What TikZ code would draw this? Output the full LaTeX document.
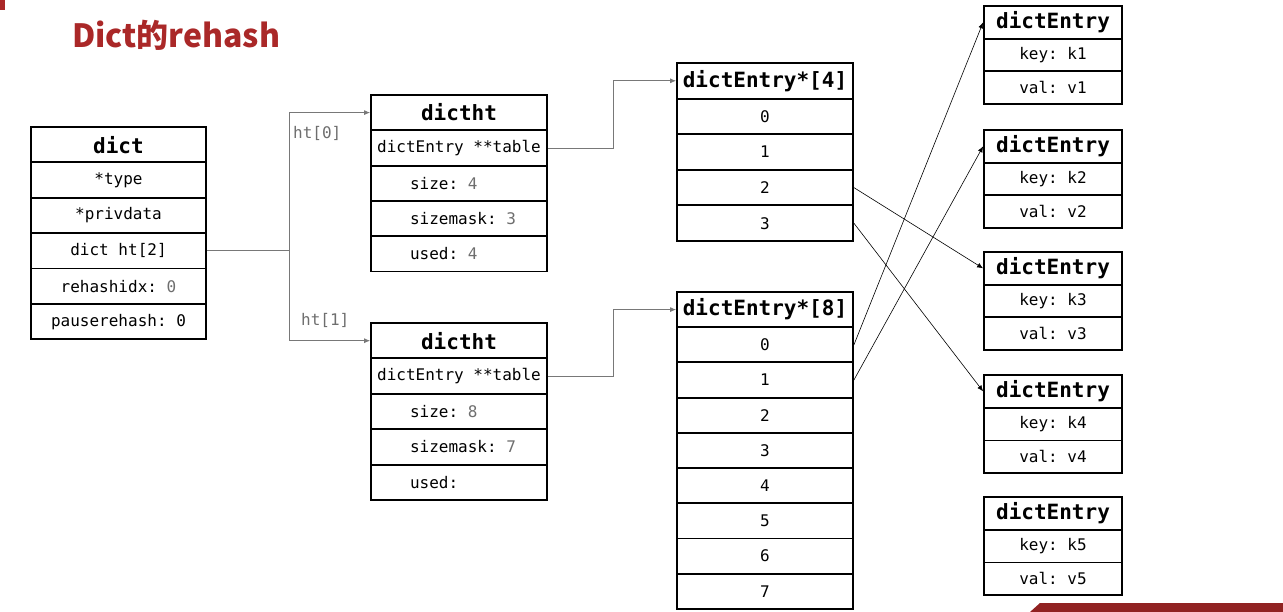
\documentclass[tikz,border=0pt]{standalone}
\usepackage{fontspec}
\setmonofont{DejaVu Sans Mono}
\newfontfamily\titlefont{Noto Sans CJK SC}
\usetikzlibrary{arrows.meta}
\definecolor{titlered}{RGB}{170,40,40}
\definecolor{numgray}{RGB}{110,110,110}
\definecolor{linegray}{RGB}{120,120,120}
\tikzset{
  cell/.style={draw, line width=1.8pt, inner sep=0pt, font=\ttfamily\fontsize{16}{17}\selectfont},
  head/.style={cell, font=\ttfamily\bfseries\fontsize{21}{22}\selectfont},
  wide/.style={minimum width=176pt, minimum height=35.4pt},
  narrow/.style={minimum width=138pt, minimum height=32.7pt},
  conn/.style={draw=linegray, line width=0.8pt},
  ptr/.style={draw=black, line width=0.6pt, -{Latex[length=6pt,width=5pt]}},
  lbl/.style={text=numgray, font=\ttfamily\fontsize{16}{17}\selectfont, inner sep=0pt}
}
\newcommand{\gv}[1]{\textcolor{numgray}{#1}}
\newcommand{\lc}[1]{\makebox[98pt][l]{#1}}
\begin{document}
\begin{tikzpicture}[x=1pt,y=-1pt]
\useasboundingbox (0,0) rectangle (1283,612);
% slide artifacts
\fill[titlered] (0,0) rectangle (5,10);
\fill[titlered!85!black] (1040,603) -- (1283,603) -- (1283,612) -- (1030,612) -- cycle;
% title
\node[anchor=base west, inner sep=0pt, text=titlered, font=\titlefont\bfseries\fontsize{32}{33}\selectfont] (title) at (72,47.5) {Dict的rehash};
% dict
\node[head, wide, minimum width=175pt] (d0) at (118.5,144.7) {dict};
\node[cell, wide, minimum width=175pt] (d1) at (118.5,180.1) {*type};
\node[cell, wide, minimum width=175pt] (d2) at (118.5,215.5) {*privdata};
\node[cell, wide, minimum width=175pt] (d3) at (118.5,250.9) {dict ht[2]};
\node[cell, wide, minimum width=175pt] (d4) at (118.5,286.3) {rehashidx: \gv{0}};
\node[cell, wide, minimum width=175pt] (d5) at (118.5,321.7) {pauserehash: 0};
% dictht 0
\node[head, wide] (ta0) at (459,112.6) {dictht};
\node[cell, wide] (ta1) at (459,148) {dictEntry **table};
\node[cell, wide] (ta2) at (459,183.3) {\lc{size: \gv{4}}};
\node[cell, wide] (ta3) at (459,218.6) {\lc{sizemask: \gv{3}}};
\node[cell, wide] (ta4) at (459,253.9) {\lc{used: \gv{4}}};
% dictht 1
\node[head, wide] (tb0) at (459,340.7) {dictht};
\node[cell, wide] (tb1) at (459,376.1) {dictEntry **table};
\node[cell, wide] (tb2) at (459,411.5) {\lc{size: \gv{8}}};
\node[cell, wide] (tb3) at (459,446.9) {\lc{sizemask: \gv{7}}};
\node[cell, wide] (tb4) at (459,482.3) {\lc{used:}};
% dictEntry*[4]
\node[head, wide] (a0) at (765,80.8) {dictEntry*[4]};
\node[cell, wide] (ar0) at (765,116.4) {0};
\node[cell, wide] (ar1) at (765,152) {1};
\node[cell, wide] (ar2) at (765,187.6) {2};
\node[cell, wide] (ar3) at (765,223.2) {3};
% dictEntry*[8]
\node[head, wide] (b0) at (765,309.6) {dictEntry*[8]};
\node[cell, wide, minimum height=35.2pt] (br0) at (765,344.8) {0};
\node[cell, wide, minimum height=35.2pt] (br1) at (765,380) {1};
\node[cell, wide, minimum height=35.2pt] (br2) at (765,415.2) {2};
\node[cell, wide, minimum height=35.2pt] (br3) at (765,450.4) {3};
\node[cell, wide, minimum height=35.2pt] (br4) at (765,485.6) {4};
\node[cell, wide, minimum height=35.2pt] (br5) at (765,520.8) {5};
\node[cell, wide, minimum height=35.2pt] (br6) at (765,556) {6};
\node[cell, wide, minimum height=35.2pt] (br7) at (765,591.2) {7};
% dictEntry boxes
\foreach \i/\t in {1/6,2/130,3/252,4/375,5/497}{
  \node[head, narrow] (e\i h) at (1053,\t+16.35) {dictEntry};
  \node[cell, narrow] (e\i k) at (1053,\t+49.05) {key: k\i};
  \node[cell, narrow] (e\i v) at (1053,\t+81.75) {val: v\i};
}
% dict -> dictht
\coordinate (bend) at (289,250.9);
\draw[conn] (d3.east) -- (bend);
\draw[conn, -{Latex[length=6pt,width=5pt]}] (bend) |- (ta0.west);
\draw[conn, -{Latex[length=6pt,width=5pt]}] (bend) |- (tb0.west);
\node[lbl, anchor=west] (l0) at (293,133) {ht[0]};
\node[lbl, anchor=west] (l1) at (301,320) {ht[1]};
% dictht -> arrays
\draw[conn, -{Latex[length=6pt,width=5pt]}] (ta1.east) -- ++(65,0) |- (a0.west);
\draw[conn, -{Latex[length=6pt,width=5pt]}] (tb1.east) -- ++(65,0) |- (b0.west);
% buckets -> entries
\draw[ptr] (ar2.east) -- (e3h.west);
\draw[ptr] (ar3.east) -- (e4h.west);
\draw[ptr] (br0.east) -- (e1h.west);
\draw[ptr] (br1.east) -- (e2h.west);
\end{tikzpicture}
\end{document}
